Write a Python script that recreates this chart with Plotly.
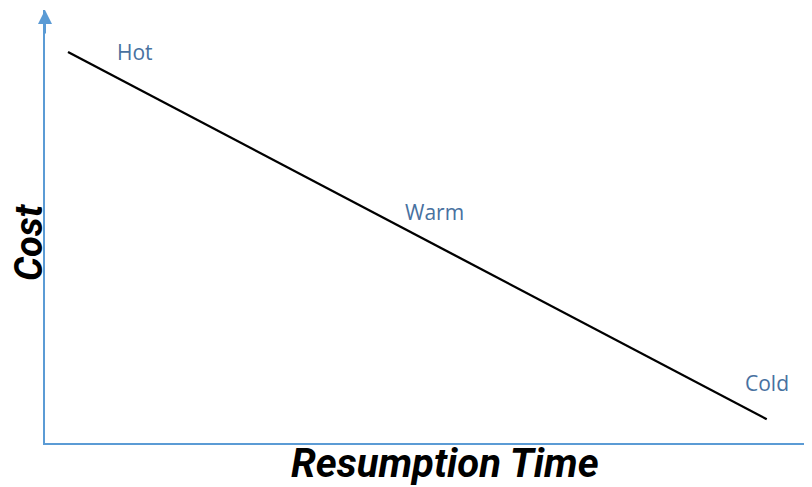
import plotly.graph_objects as go

stages = ["Hot", "Warm", "Cold"]
resumption_time = [3.0, 50.8, 94.1]
cost = [90.3, 45.8, 5.5]
label_dx = [67, 0, 0]
label_dy = [0, -33, -36]

AXIS_COLOR = "#5B9BD5"
LABEL_COLOR = "#4871A0"
FONT = "'Open Sans', Lato, sans-serif"
TITLE_FONT = "Roboto, 'Open Sans', sans-serif"

fig = go.Figure()
fig.add_trace(go.Scatter(
    x=resumption_time, y=cost, mode="lines",
    line=dict(color="black", width=2.3), hoverinfo="skip", showlegend=False,
))

for s, x, y, dx, dy in zip(stages, resumption_time, cost, label_dx, label_dy):
    fig.add_annotation(x=x, y=y, text=s, showarrow=False, xshift=dx, yshift=-dy,
                       xanchor="center", yanchor="middle",
                       font=dict(family=FONT, size=21, color=LABEL_COLOR))

# y-axis arrow head
fig.add_annotation(xref="paper", yref="paper", x=0, y=1, ax=0, ay=25,
                   showarrow=True, arrowhead=2, arrowsize=1.4, arrowwidth=2,
                   arrowcolor=AXIS_COLOR, text="")

# axis titles
fig.add_annotation(xref="paper", yref="paper", x=0, y=0.464, xshift=-16,
                   xanchor="center", yanchor="middle", borderpad=0,
                   text="<b><i>Cost</i></b>", showarrow=False, textangle=-90,
                   font=dict(family=TITLE_FONT, size=38, color="black"))
fig.add_annotation(xref="paper", yref="paper", x=0.527, y=0, yshift=-20,
                   xanchor="center", yanchor="middle", borderpad=0,
                   text="<b><i>Resumption Time</i></b>", showarrow=False,
                   font=dict(family=TITLE_FONT, size=40, color="black"))

fig.update_layout(
    width=796, height=479,
    margin=dict(l=37, r=0, t=2, b=44),
    paper_bgcolor="white", plot_bgcolor="white",
    xaxis=dict(range=[0, 98.96], showline=True, linecolor=AXIS_COLOR, linewidth=2,
               showgrid=False, zeroline=False, showticklabels=False, ticks=""),
    yaxis=dict(range=[0, 100], showline=True, linecolor=AXIS_COLOR, linewidth=2,
               showgrid=False, zeroline=False, showticklabels=False, ticks=""),
)

fig.write_html("out.html")
